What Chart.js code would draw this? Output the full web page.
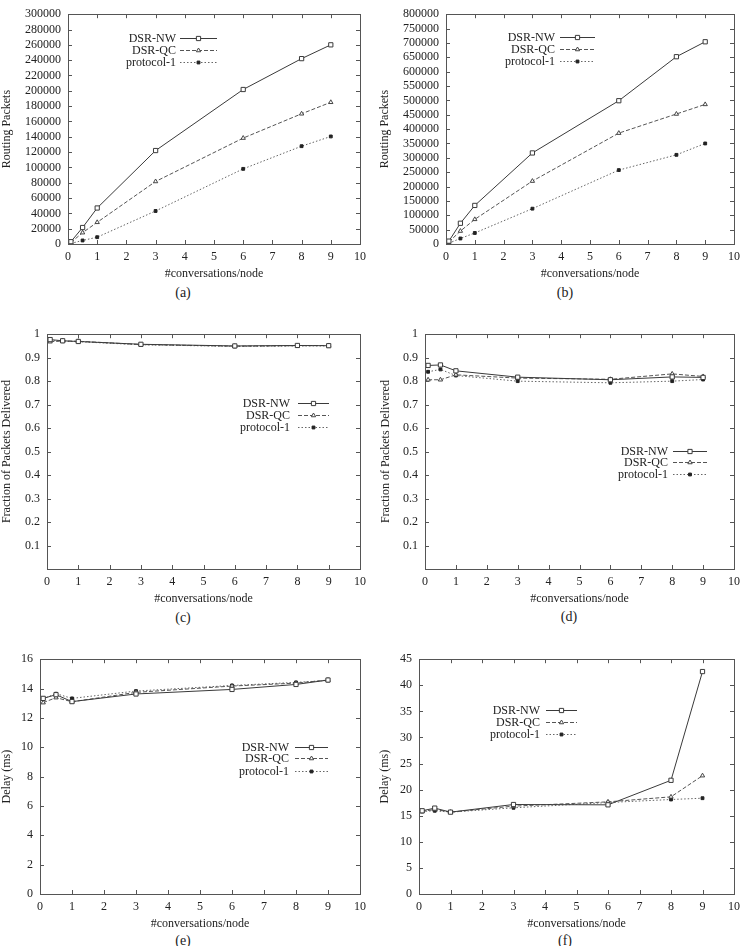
<!DOCTYPE html>
<html>
<head>
<meta charset="utf-8">
<script src="https://cdn.jsdelivr.net/npm/chart.js@4.4.1/dist/chart.umd.min.js"></script>
<style>
body { margin: 0; background: #fff; }
#page { position: relative; width: 746px; height: 946px; overflow: hidden; }
canvas { position: absolute; }
.cap { position: absolute; font: 14px "Liberation Serif", serif; color: #222; transform: translate(-50%, -50%); white-space: nowrap; }
</style>
</head>
<body>
<div id="page">
  <canvas id="chart-a" width="373" height="281" style="left:0px;top:0px"></canvas>
  <canvas id="chart-b" width="373" height="281" style="left:373px;top:0px"></canvas>
  <canvas id="chart-c" width="373" height="286" style="left:0px;top:320px"></canvas>
  <canvas id="chart-d" width="373" height="286" style="left:373px;top:320px"></canvas>
  <canvas id="chart-e" width="373" height="286" style="left:0px;top:645px"></canvas>
  <canvas id="chart-f" width="373" height="286" style="left:373px;top:645px"></canvas>
  <div class="cap" style="left:183px;top:293px">(a)</div>
  <div class="cap" style="left:565px;top:293px">(b)</div>
  <div class="cap" style="left:183px;top:618px">(c)</div>
  <div class="cap" style="left:569px;top:617px">(d)</div>
  <div class="cap" style="left:183px;top:941px">(e)</div>
  <div class="cap" style="left:565px;top:941px">(f)</div>
</div>
<script>
const seriesNames = ['DSR-NW', 'DSR-QC', 'protocol-1'];
const conversations = [0.1, 0.5, 1, 3, 6, 8, 9];

// (a) routing packets
const routingA_NW = [3000, 21500, 47000, 122000, 201700, 242000, 260000];
const routingA_QC = [2000, 14800, 28300, 81600, 138300, 170000, 185000];
const routingA_P1 = [800, 4600, 8900, 43100, 98100, 127700, 140400];

// (b) routing packets
const routingB_NW = [10000, 72200, 134300, 317000, 498800, 652000, 704000];
const routingB_QC = [7000, 45100, 85800, 219000, 386000, 452600, 486000];
const routingB_P1 = [3000, 19200, 38400, 123000, 257300, 310400, 350000];

// (c) fraction delivered
const deliveredC_NW = [0.977, 0.972, 0.969, 0.957, 0.950, 0.952, 0.951];
const deliveredC_QC = [0.968, 0.971, 0.970, 0.956, 0.949, 0.951, 0.952];
const deliveredC_P1 = [0.973, 0.970, 0.968, 0.955, 0.948, 0.950, 0.950];

// (d) fraction delivered
const deliveredD_NW = [0.867, 0.869, 0.844, 0.817, 0.806, 0.818, 0.816];
const deliveredD_QC = [0.806, 0.806, 0.827, 0.813, 0.808, 0.831, 0.820];
const deliveredD_P1 = [0.840, 0.850, 0.824, 0.800, 0.793, 0.800, 0.807];

// (e) delay
const delayE_NW = [13.33, 13.58, 13.11, 13.63, 13.94, 14.28, 14.58];
const delayE_QC = [13.04, 13.38, 13.10, 13.74, 14.17, 14.37, 14.58];
const delayE_P1 = [13.31, 13.65, 13.33, 13.83, 14.21, 14.42, 14.55];

// (f) delay
const delayF_NW = [15.95, 16.46, 15.69, 17.15, 17.09, 21.79, 42.63];
const delayF_QC = [15.82, 16.20, 15.69, 16.84, 17.66, 18.62, 22.68];
const delayF_P1 = [15.82, 15.95, 15.69, 16.52, 17.53, 18.11, 18.36];

const FONT = '"Liberation Serif", "Times New Roman", serif';
Chart.defaults.font.family = FONT;
Chart.defaults.font.size = 12;
Chart.defaults.color = '#222';

const seriesStyles = [
    { borderColor: '#3a3a3a', borderWidth: 1, borderDash: [], pointStyle: 'rect', pointRadius: 3, pointBackgroundColor: '#fff', pointBorderColor: '#3a3a3a' },
    { borderColor: '#555', borderWidth: 1, borderDash: [4, 2], pointStyle: 'triangle', pointRadius: 2.5, pointBackgroundColor: '#fff', pointBorderColor: '#444' },
    { borderColor: '#666', borderWidth: 1, borderDash: [1.5, 2], pointStyle: 'rect', pointRadius: 2, pointBackgroundColor: '#222', pointBorderColor: '#222' },
];

// box round the plot and inward ticks on all four sides
const framePlugin = {
    id: 'frame',
    afterDatasetsDraw(chart) {
        const { ctx, chartArea: a, scales } = chart;
        const tl = 4;
        ctx.save();
        ctx.strokeStyle = '#555';
        ctx.lineWidth = 1;
        ctx.setLineDash([]);
        ctx.beginPath();
        scales.x.ticks.forEach((t) => {
            const px = Math.round(scales.x.getPixelForValue(t.value)) + 0.5;
            ctx.moveTo(px, a.bottom); ctx.lineTo(px, a.bottom - tl);
            ctx.moveTo(px, a.top); ctx.lineTo(px, a.top + tl);
        });
        scales.y.ticks.forEach((t) => {
            const py = Math.round(scales.y.getPixelForValue(t.value)) + 0.5;
            ctx.moveTo(a.left, py); ctx.lineTo(a.left + tl, py);
            ctx.moveTo(a.right, py); ctx.lineTo(a.right - tl, py);
        });
        ctx.stroke();
        ctx.strokeRect(Math.round(a.left) + 0.5, Math.round(a.top) + 0.5, Math.round(a.width), Math.round(a.height));
        ctx.restore();
    },
};

// gnuplot style key inside the plot
const keyPlugin = {
    id: 'boxLegend',
    afterDatasetsDraw(chart, args, o) {
        const ctx = chart.ctx;
        ctx.save();
        ctx.font = '12px ' + FONT;
        ctx.textAlign = 'right';
        ctx.textBaseline = 'middle';
        chart.data.datasets.forEach((ds, i) => {
            const y = o.rows[i] + 0.5;
            ctx.fillStyle = '#222';
            ctx.fillText(ds.label, o.textRight, y);
            ctx.strokeStyle = ds.borderColor;
            ctx.lineWidth = ds.borderWidth;
            ctx.setLineDash(ds.borderDash);
            ctx.beginPath();
            ctx.moveTo(o.x1, y);
            ctx.lineTo(o.x2, y);
            ctx.stroke();
            ctx.setLineDash([]);
            ctx.fillStyle = ds.pointBackgroundColor;
            ctx.strokeStyle = ds.pointBorderColor;
            Chart.helpers.drawPoint(ctx, { pointStyle: ds.pointStyle, radius: ds.pointRadius, borderWidth: 1, rotation: 0 }, (o.x1 + o.x2) / 2, y);
        });
        ctx.restore();
    },
};

function fmtTick(v) {
    return String(+v.toFixed(2));
}

function fmtFraction(v) {
    return v === 0 ? '' : String(+v.toFixed(1));
}

function renderPanel(id, p) {
    const canva = document.getElementById(id);
    const data = {
        datasets: seriesNames.map((name, i) => ({
            label: name,
            data: conversations.map((x, j) => ({ x: x, y: p.values[i][j] })),
            tension: 0,
            pointBorderWidth: 1,
            ...seriesStyles[i],
        })),
    };

    return new Chart(canva, {
        type: 'line',
        data: data,
        options: {
            responsive: false,
            animation: false,
            layout: { padding: { top: p.padTop, right: p.padRight, left: 0, bottom: 0 } },
            plugins: {
                legend: { display: false },
                tooltip: { enabled: false },
                boxLegend: p.key,
            },
            scales: {
                x: {
                    type: 'linear',
                    min: 0,
                    max: 10,
                    ticks: { stepSize: 1, padding: 6, maxRotation: 0, autoSkip: false, callback: fmtTick },
                    grid: { display: false, drawTicks: false },
                    border: { display: false },
                    title: { display: true, text: '#conversations/node', padding: 0 },
                    afterFit: (s) => { s.height = 37; },
                },
                y: {
                    type: 'linear',
                    min: p.yMin,
                    max: p.yMax,
                    ticks: { stepSize: p.yStep, padding: 7, autoSkip: false, callback: p.fmt || fmtTick },
                    grid: { display: false, drawTicks: false },
                    border: { display: false },
                    title: { display: true, text: p.yTitle, padding: { top: p.titlePad, bottom: 0 } },
                    afterFit: (s) => { s.width = p.yWidth; },
                },
            },
        },
        plugins: [framePlugin, keyPlugin],
    });
}

renderPanel('chart-a', {
    values: [routingA_NW, routingA_QC, routingA_P1],
    yMin: 0, yMax: 300000, yStep: 20000, yTitle: 'Routing Packets',
    yWidth: 68, padTop: 7, padRight: 13, titlePad: 0,
    key: { textRight: 176, x1: 180, x2: 217, rows: [38, 50, 62] },
});

renderPanel('chart-b', {
    values: [routingB_NW, routingB_QC, routingB_P1],
    yMin: 0, yMax: 800000, yStep: 50000, yTitle: 'Routing Packets',
    yWidth: 73, padTop: 7, padRight: 8, titlePad: 5,
    key: { textRight: 182, x1: 187, x2: 222, rows: [37, 49, 61] },
});

renderPanel('chart-c', {
    values: [deliveredC_NW, deliveredC_QC, deliveredC_P1],
    yMin: 0, yMax: 1, yStep: 0.1, yTitle: 'Fraction of Packets Delivered', fmt: fmtFraction,
    yWidth: 47, padTop: 13, padRight: 13, titlePad: 0,
    key: { textRight: 290, x1: 298, x2: 329, rows: [83, 95, 107] },
});

renderPanel('chart-d', {
    values: [deliveredD_NW, deliveredD_QC, deliveredD_P1],
    yMin: 0, yMax: 1, yStep: 0.1, yTitle: 'Fraction of Packets Delivered', fmt: fmtFraction,
    yWidth: 52, padTop: 13, padRight: 8, titlePad: 6,
    key: { textRight: 295, x1: 300, x2: 334, rows: [131, 142, 154] },
});

renderPanel('chart-e', {
    values: [delayE_NW, delayE_QC, delayE_P1],
    yMin: 0, yMax: 16, yStep: 2, yTitle: 'Delay (ms)',
    yWidth: 40, padTop: 13, padRight: 13, titlePad: 0,
    key: { textRight: 289, x1: 295, x2: 328, rows: [102, 113, 126] },
});

renderPanel('chart-f', {
    values: [delayF_NW, delayF_QC, delayF_P1],
    yMin: 0, yMax: 45, yStep: 5, yTitle: 'Delay (ms)',
    yWidth: 46, padTop: 13, padRight: 8, titlePad: 5,
    key: { textRight: 167, x1: 173, x2: 204, rows: [65, 77, 89] },
});
</script>
</body>
</html>
